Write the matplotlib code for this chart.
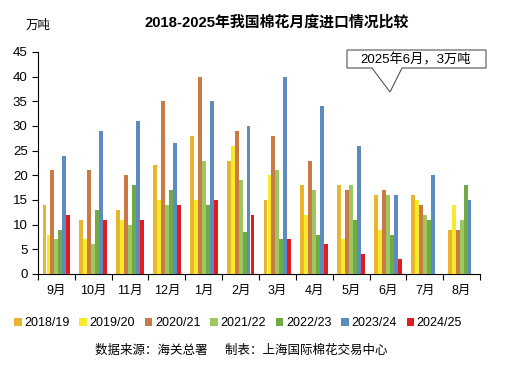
import numpy as np
import matplotlib
matplotlib.use('Agg')
import matplotlib.pyplot as plt
from matplotlib.patches import Patch, Polygon

plt.rcParams['font.family'] = ['Liberation Sans', 'Noto Sans CJK SC', 'DejaVu Sans']

months = ['9月', '10月', '11月', '12月', '1月', '2月', '3月', '4月', '5月', '6月', '7月', '8月']
seasons = ['2018/19', '2019/20', '2020/21', '2021/22', '2022/23', '2023/24', '2024/25']
colors = ['#E8B52C', '#F7EA2A', '#C97A45', '#9CC862', '#6FAA45', '#5B8BBF', '#E51B1B']

s1819 = [14, 11, 13, 22, 28, 23, 15, 18, 18, 16, 16, 9]
s1920 = [8, 7, 11, 15, 15, 26, 20, 12, 7, 9, 15, 14]
s2021 = [21, 21, 20, 35, 40, 29, 28, 23, 17, 17, 14, 9]
s2122 = [7, 6, 10, 14, 23, 19, 21, 17, 18, 16, 12, 11]
s2223 = [9, 13, 18, 17, 14, 8.5, 7, 8, 11, 8, 11, 18]
s2324 = [24, 29, 31, 26.5, 35, 30, 40, 34, 26, 16, 20, 15]
s2425 = [12, 11, 11, 14, 15, 12, 7, 6, 4, 3, np.nan, np.nan]
series = [s1819, s1920, s2021, s2122, s2223, s2324, s2425]

W, H = 507, 372
fig = plt.figure(figsize=(W / 100, H / 100), dpi=100)
ax = fig.add_axes([38 / W, 1 - 274 / H, 442 / W, 222 / H])

x = np.arange(len(months))
bw = 0.108
for i, (vals, c) in enumerate(zip(series, colors)):
    off = (i - 3) * bw
    ax.bar(x + off, vals, width=bw * 0.98, color=c, zorder=3)

ax.set_xlim(-0.5, len(months) - 0.5)
ax.set_ylim(0, 45)
ax.set_yticks(range(0, 46, 5))
ax.set_xticks(x)
ax.set_xticklabels(months, fontsize=9)
ax.set_xticks(np.arange(-0.5, len(months), 1), minor=True)
ax.tick_params(axis='x', which='major', length=0, pad=8)
ax.tick_params(axis='x', which='minor', length=4, direction='out', width=0.8)
ax.tick_params(axis='y', length=4, direction='out', labelsize=9.5, width=0.8)
for s in ['top', 'right']:
    ax.spines[s].set_visible(False)
for s in ['left', 'bottom']:
    ax.spines[s].set_color('black')
    ax.spines[s].set_linewidth(0.8)

fig.text(277 / W, 1 - 22 / H, '2018-2025年我国棉花月度进口情况比较', ha='center', va='center',
         fontsize=10.7, fontweight='bold')
fig.text(38 / W, 1 - 26 / H, '万吨', ha='center', va='center', fontsize=9)

handles = [Patch(facecolor=c, label=s) for s, c in zip(seasons, colors)]
fig.legend(handles=handles, loc='center', bbox_to_anchor=(238 / W, 1 - 323 / H), ncol=7,
           frameon=False, fontsize=9, handlelength=0.6, handleheight=0.6, handletextpad=0.2,
           columnspacing=0.8, borderpad=0)

fig.text(241 / W, 1 - 351 / H, '数据来源：海关总署     制表：上海国际棉花交易中心',
         ha='center', va='center', fontsize=9)

# callout box
pts = [(347, 50), (486, 50), (486, 68), (402, 68), (390, 92), (372, 68), (347, 68)]
poly = Polygon([(px / W, 1 - py / H) for px, py in pts], closed=True, transform=fig.transFigure,
               facecolor='white', edgecolor='#555555', linewidth=0.8)
fig.patches.append(poly)
fig.text(416 / W, 1 - 59.5 / H, '2025年6月，3万吨', ha='center', va='center', fontsize=9.5)

fig.savefig('out.png', dpi=100)
